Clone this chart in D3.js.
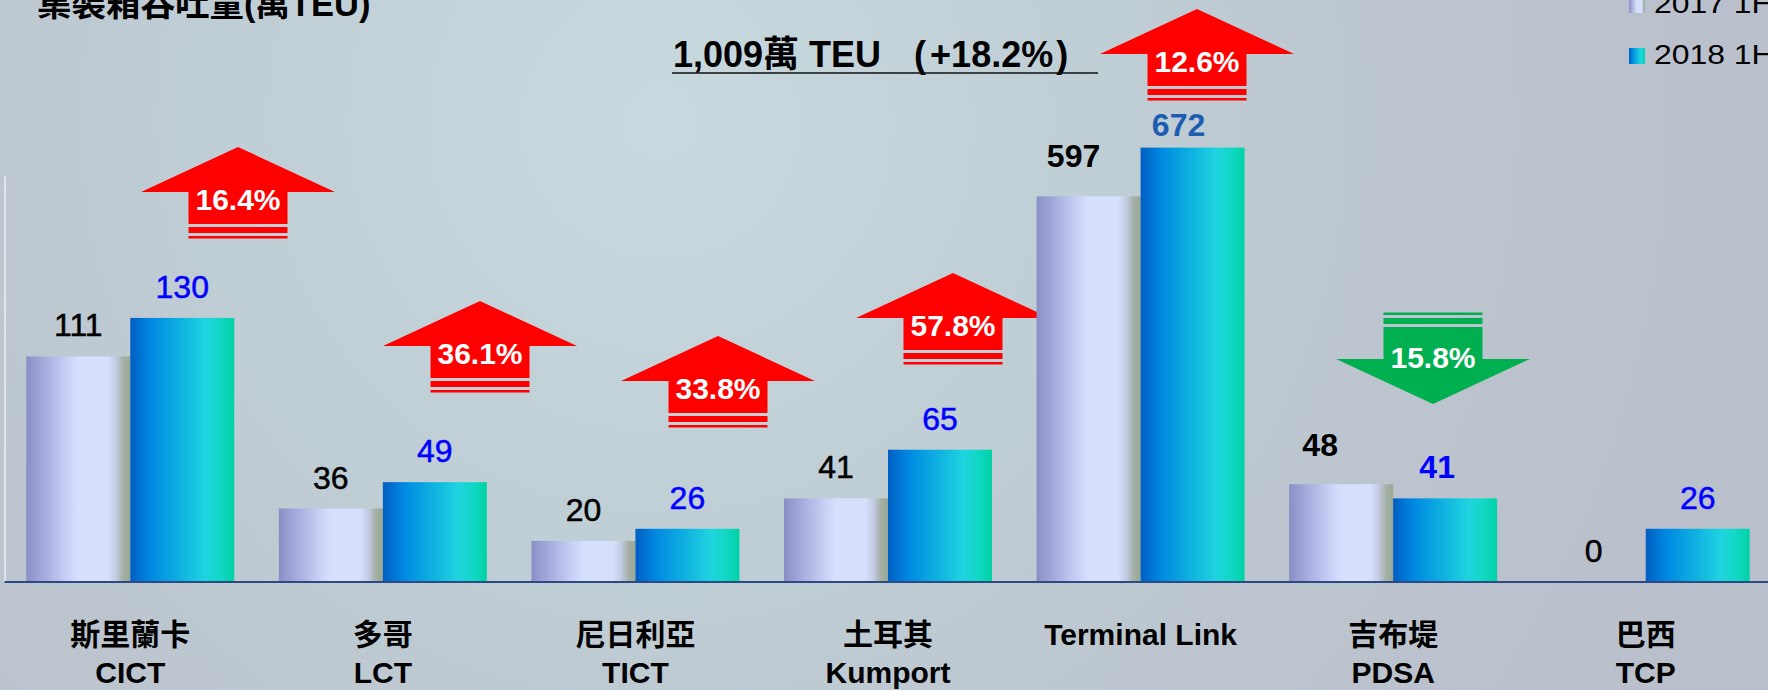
<!DOCTYPE html>
<html><head><meta charset="utf-8">
<script src="https://cdn.jsdelivr.net/npm/d3@7"></script>
<style>html,body{margin:0;padding:0;overflow:hidden;background:#bcc3cd}svg{display:block}</style>
</head><body>
<svg id="chart" width="1768" height="690"></svg>
<script>
// ---------- data ----------
const categories = ["斯里蘭卡", "多哥", "尼日利亞", "土耳其", "Terminal Link", "吉布堤", "巴西"];
const terminalCodes = ["CICT", "LCT", "TICT", "Kumport", "", "PDSA", "TCP"];
const seriesNames = ["2017 1H", "2018 1H"];
const values2017 = [111, 36, 20, 41, 597, 48, 0];
const values2018 = [130, 49, 26, 65, 672, 41, 26];
// bar lengths as drawn in the source (Terminal Link pair is drawn shortened, not to scale)
const drawn2017 = [111, 36, 20, 41, 190, 48, 0];
const drawn2018 = [130, 49, 26, 65, 214, 41, 26];
const growthPct = [16.4, 36.1, 33.8, 57.8, 12.6, -15.8, null];
const titleText = "集裝箱吞吐量(萬TEU)";
const totalParts = ["1,009萬 TEU", "(", "+18.2%", ")"];
const yDomainMax = 200;

// ---------- layout (pixels) ----------
const W = 1768, H = 690;
const baseY = 581.5, topY = 176;
const arrowTips = [[238, 147], [480, 301], [718, 336], [953, 273], [1197, 9], [1433, 404]];
const labelNudge = { "0-4": [-15, -9], "0-5": [-21, -8], "1-4": [-14, 8], "1-5": [-8, 0] };
const boldLabels = new Set(["0-4", "1-4", "0-5", "1-5"]);
const FONT = "'Liberation Sans', Arial, 'Noto Sans CJK TC', sans-serif";

const svg = d3.select("#chart");
const defs = svg.append("defs");

const bg = defs.append("radialGradient").attr("id", "bg").attr("gradientUnits", "userSpaceOnUse")
  .attr("cx", 660).attr("cy", 120).attr("r", 1150);
[[0, "#c7d9de"], [0.35, "#c0cfd6"], [0.7, "#bcc4ce"], [1, "#b9bfcb"]].forEach(([o, c]) =>
  bg.append("stop").attr("offset", o).attr("stop-color", c));

function hGrad(id, stops) {
  const g = defs.append("linearGradient").attr("id", id).attr("x1", 0).attr("x2", 1).attr("y1", 0).attr("y2", 0);
  stops.forEach(([o, c]) => g.append("stop").attr("offset", o).attr("stop-color", c));
}
hGrad("g2017", [[0, "#8a8ec6"], [0.15, "#a2a8da"], [0.4, "#c9d2f6"], [0.5, "#d6e0fd"], [0.78, "#d6e0fd"], [0.86, "#c4cce4"], [0.93, "#a6b0a8"], [1, "#98a892"]]);
hGrad("g2018", [[0, "#005ec2"], [0.2, "#0089e2"], [0.5, "#10b4e0"], [0.72, "#1fd3e0"], [0.86, "#12d8c6"], [1, "#00d2a6"]]);
const fills = ["url(#g2017)", "url(#g2018)"];

svg.append("rect").attr("width", W).attr("height", H).attr("fill", "url(#bg)");

// ---------- scales ----------
const x0 = d3.scaleBand().domain(categories).range([4, W + 4]).paddingInner(0.1766).paddingOuter(0.0883);
const x1 = d3.scaleBand().domain(seriesNames).range([0, x0.bandwidth()]).padding(0);
const y = d3.scaleLinear().domain([0, yDomainMax]).range([baseY, topY]);

// y axis line (no ticks)
const yAx = svg.append("g").attr("transform", "translate(4.5,0)").call(d3.axisLeft(y).tickValues([]).tickSizeOuter(0));
yAx.select(".domain").attr("stroke", "#eef0f2").attr("stroke-width", 1.5);

// ---------- arrows (behind bars) ----------
const arrowData = growthPct.map((g, i) => ({ g, i })).filter(d => d.g !== null);
const aG = svg.append("g");
arrowData.forEach((d, k) => {
  const [cx, t] = arrowTips[k];
  const up = d.g >= 0;
  const s = up ? 1 : -1;
  const col = up ? "#ff0000" : "#00b050";
  const hw = 97, sw = 49.5;
  const p = d3.path();
  p.moveTo(cx, t);
  p.lineTo(cx + hw, t + s * 45);
  p.lineTo(cx + sw, t + s * 45);
  p.lineTo(cx + sw, t + s * 77);
  p.lineTo(cx - sw, t + s * 77);
  p.lineTo(cx - sw, t + s * 45);
  p.lineTo(cx - hw, t + s * 45);
  p.closePath();
  aG.append("path").attr("d", p.toString()).attr("fill", col);
  const r1 = up ? [t + 80, 6] : [t - 86, 6];
  const r2 = up ? [t + 89, 2.5] : [t - 91.5, 2.5];
  aG.append("rect").attr("x", cx - sw).attr("width", 2 * sw).attr("y", r1[0]).attr("height", r1[1]).attr("fill", col);
  aG.append("rect").attr("x", cx - sw).attr("width", 2 * sw).attr("y", r2[0]).attr("height", r2[1]).attr("fill", col);
  aG.append("text").attr("x", cx).attr("y", up ? t + 63 : t - 36)
    .attr("text-anchor", "middle").attr("fill", "#fff").attr("font-family", FONT)
    .attr("font-weight", "bold").attr("font-size", 30)
    .text(Math.abs(d.g).toFixed(1) + "%");
});

// ---------- bars ----------
const rows = categories.map((c, i) => ({
  cat: c,
  items: [
    { s: 0, name: seriesNames[0], v: values2017[i], h: drawn2017[i], i },
    { s: 1, name: seriesNames[1], v: values2018[i], h: drawn2018[i], i }
  ]
}));
const groups = svg.append("g").selectAll("g").data(rows).join("g")
  .attr("transform", d => `translate(${x0(d.cat)},0)`);
groups.selectAll("rect").data(d => d.items).join("rect")
  .attr("x", d => x1(d.name)).attr("width", x1.bandwidth())
  .attr("y", d => y(d.h)).attr("height", d => baseY - y(d.h))
  .attr("fill", d => fills[d.s]);

// value labels
const valColor = d => d.s === 0 ? "#000" : (d.i === 4 ? "#1c5db2" : "#0000ff");
groups.selectAll("text.val").data(d => d.items).join("text").attr("class", "val")
  .attr("x", d => x1(d.name) + x1.bandwidth() / 2 + (labelNudge[d.s + "-" + d.i] || [0, 0])[0])
  .attr("y", d => y(d.h) - 20 + (labelNudge[d.s + "-" + d.i] || [0, 0])[1])
  .attr("text-anchor", "middle").attr("font-family", FONT).attr("font-size", 32)
  .attr("font-weight", d => boldLabels.has(d.s + "-" + d.i) ? "bold" : "normal")
  .attr("fill", valColor)
  .attr("stroke", d => boldLabels.has(d.s + "-" + d.i) ? "none" : valColor(d))
  .attr("stroke-width", 0.5)
  .text(d => d.v);

// ---------- x axis ----------
const xAx = svg.append("g").attr("transform", `translate(0,${baseY})`)
  .call(d3.axisBottom(x0).tickSize(0).tickSizeOuter(0).tickPadding(0));
xAx.select(".domain").attr("stroke", "#2c4a84").attr("stroke-width", 2);
xAx.selectAll(".tick text").each(function (c) {
  const t = d3.select(this).text(null).attr("fill", "#000").attr("font-family", FONT)
    .attr("font-weight", "bold").attr("dy", null).attr("y", 0);
  const idx = categories.indexOf(c);
  t.append("tspan").attr("x", 0).attr("y", 63).attr("font-size", 30).text(c);
  if (terminalCodes[idx]) t.append("tspan").attr("x", 0).attr("y", 101).attr("font-size", 30).text(terminalCodes[idx]);
});

// ---------- title / total ----------
svg.append("text").attr("x", 37).attr("y", 16).attr("font-family", FONT).attr("font-weight", "bold")
  .attr("font-size", 34.5).attr("fill", "#000").text(titleText);
const tot = svg.append("text").attr("x", 673).attr("y", 67).attr("font-family", FONT).attr("font-weight", "bold")
  .attr("font-size", 36).attr("fill", "#000");
tot.append("tspan").text(totalParts[0]);
tot.append("tspan").attr("dx", 33).text(totalParts[1]);
tot.append("tspan").attr("dx", 4).text(totalParts[2]);
tot.append("tspan").attr("dx", 3).text(totalParts[3]);
svg.append("line").attr("x1", 672).attr("x2", 1098).attr("y1", 73).attr("y2", 73)
  .attr("stroke", "#111").attr("stroke-width", 1.5);

// ---------- legend ----------
const leg = svg.append("g").selectAll("g").data(seriesNames).join("g")
  .attr("transform", (d, i) => `translate(1629,${i * 51})`);
leg.append("rect").attr("x", 0).attr("y", -3).attr("width", 16).attr("height", 16).attr("fill", (d, i) => fills[i]);
leg.append("text").attr("transform", "translate(25,13) scale(1.14,1)").attr("font-family", FONT).attr("font-size", 28)
  .attr("fill", "#000").text(d => d);
</script>
</body></html>
